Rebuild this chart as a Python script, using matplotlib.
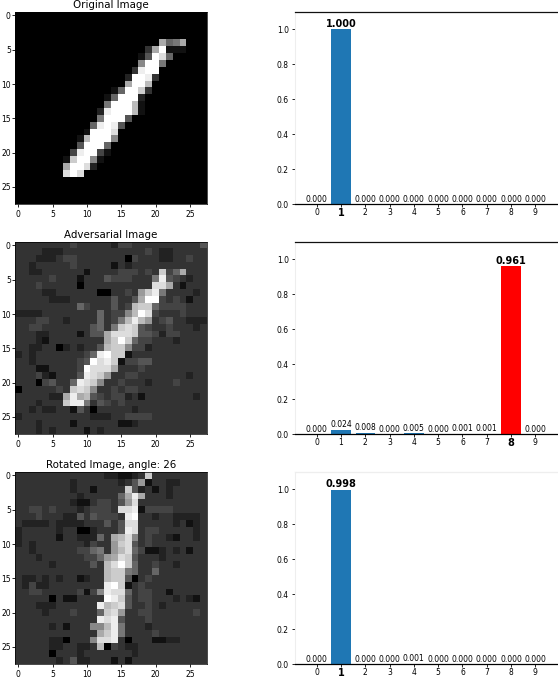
import numpy as np
import matplotlib.pyplot as plt

digits = list(range(10))

titles = ["Original Image", "Adversarial Image", "Rotated Image, angle: 26"]

probs_original = [0.000, 1.000, 0.000, 0.000, 0.000, 0.000, 0.000, 0.000, 0.000, 0.000]
probs_adversarial = [0.000, 0.024, 0.008, 0.000, 0.005, 0.000, 0.001, 0.001, 0.961, 0.000]
probs_rotated = [0.000, 0.998, 0.000, 0.000, 0.001, 0.000, 0.000, 0.000, 0.000, 0.000]

# grey level of each pixel in hex, 0 = black, f = white
original_rows = {
    4: (21, "a67a"), 5: (19, "3af111"), 6: (18, "15fd6"), 7: (18, "8ff7"),
    8: (17, "3eff"), 9: (16, "2ffe3"), 10: (16, "affb"), 11: (14, "16ffc3"),
    12: (13, "16fff2"), 13: (13, "7fffb1"), 14: (12, "2efffb1"), 15: (12, "7fff5"),
    16: (11, "6efe5"), 17: (10, "1fffd"), 18: (9, "1bfff8"), 19: (9, "5fff6"),
    20: (8, "4eff41"), 21: (7, "1cff81"), 22: (7, "affd2"), 23: (7, "dfd"),
}

adversarial_rows = [
    "3333333 3433333 2443333 3333335",
    "3333222 3333333 3333343 2233333",
    "3332223 4433333 3304333 2233433",
    "3323333 3433333 1323333 3333333",
    "3322333 3331333 3444343 c46a333",
    "3333343 3313335 4443337 e543233",
    "3334333 3303333 333333d da31333",
    "3333223 3333300 33439ce 7333323",
    "3333322 2333333 5335aff 4343133",
    "3333333 3364333 534bcc6 4444333",
    "2222333 3333363 448bfd4 3334333",
    "3334433 2333363 47beb93 4533222",
    "3344333 3333563 7cdc543 3433323",
    "3332233 331355a dddc554 2443333",
    "3332133 333333a cfc6443 3323333",
    "3322330 232335b cc84423 3333333",
    "2323333 33346ef cc13333 3333333",
    "3323333 3345fde c144553 3333333",
    "3331133 334fddd a333433 3333333",
    "3334213 335edc9 3344333 3333233",
    "3330453 36edc83 3433323 3343333",
    "0333334 3cdc833 4344333 3333333",
    "3333322 aeab543 4423133 3333323",
    "3332333 cee7354 3433333 3333333",
    "3323223 3153033 3332333 3333333",
    "2333333 3333222 3344443 3333333",
    "3332333 3133333 3112333 3333333",
    "3332323 3331323 3333333 3333333",
]

rotated_rows = [
    "3333333 3333332 21123c3 3333333",
    "3333333 3233333 3235913 3223333",
    "3333333 3233133 33c5231 3233333",
    "3333333 3323333 36aea33 3233333",
    "3333333 3211344 359d333 3333333",
    "3344343 3323444 3dde144 4433333",
    "3334333 2253544 43ef332 3322223",
    "3222232 2223335 35dd333 3323123",
    "2333332 3300233 35ed344 3333323",
    "2333331 3322263 abd8343 3213323",
    "2323333 3332433 9cd5343 3333333",
    "3323333 3344673 9bd6411 2323133",
    "3332333 3334469 adc5333 2333333",
    "3333323 333353b dfc6334 3323333",
    "3333333 333333b cc76336 3333333",
    "3223232 331233b cc50343 3333333",
    "3242233 333333e fc13433 3333333",
    "3344333 334148e dd63443 3133333",
    "3333303 113333f ec53443 3323213",
    "3332223 33333eb cd53343 2333333",
    "3333233 343336c d933443 3333343",
    "3333333 33333ed e533343 3333333",
    "3333323 133388b e733323 3333333",
    "3333333 33333ac e733334 3333333",
    "3333322 03338dd e303331 1223333",
    "3333322 33223b0 4322333 3333333",
    "3333303 3323333 3332333 3333333",
    "3333332 3522333 1313333 3333333",
]


def parse_rows(rows):
    return np.array([[int(c, 16) for c in r.replace(" ", "")] for r in rows])


img_original = np.zeros((28, 28), dtype=int)
for r, (start, vals) in original_rows.items():
    for k, c in enumerate(vals):
        img_original[r, start + k] = int(c, 16)

images = [img_original, parse_rows(adversarial_rows), parse_rows(rotated_rows)]
probs = [probs_original, probs_adversarial, probs_rotated]
bar_colors = ["tab:blue", "red", "tab:blue"]

W, H = 558, 678
# top and bottom of each row, in pixels from the top of the figure
rows_px = [(12, 204), (242, 434), (472, 664)]

fig = plt.figure(figsize=(W / 100, H / 100), dpi=100)

for i in range(3):
    top, bottom = rows_px[i]
    y0 = 1 - bottom / H
    h = (bottom - top) / H

    ax = fig.add_axes([15 / W, y0, 192 / W, h])
    ax.imshow(images[i], cmap="gray", vmin=0, vmax=15, aspect="auto")
    ax.set_title(titles[i], fontsize=7.4, pad=3)
    ax.set_xticks(range(0, 28, 5))
    ax.set_yticks(range(0, 28, 5))
    ax.tick_params(labelsize=5.5, length=2, width=0.6, pad=1)
    ax.tick_params(axis="x", pad=2.5)
    for s in ax.spines.values():
        s.set_linewidth(0.5)

    ax2 = fig.add_axes([295 / W, y0, 262 / W, h])
    p = np.array(probs[i])
    best = int(np.argmax(p))
    colors = ["tab:blue"] * 10
    colors[best] = bar_colors[i]
    ax2.bar(digits, p, color=colors)
    ax2.set_ylim(0, 1.1)
    ax2.set_xticks(digits)
    ax2.set_yticks(np.arange(0, 1.01, 0.2))
    ax2.tick_params(labelsize=5.5, length=2.5, width=0.6, pad=2)
    ax2.tick_params(axis="x", length=2, pad=1)
    ax2.spines["right"].set_visible(False)
    ax2.spines["left"].set_color("#eeeeee")
    ax2.spines["top"].set_color("#111111" if i < 2 else "#eeeeee")
    ax2.spines["top"].set_linewidth(0.9)
    ax2.spines["bottom"].set_linewidth(0.9)
    for d, v in zip(digits, p):
        if d == best:
            ax2.text(d, v + 0.002, f"{v:.3f}", ha="center", va="bottom", fontsize=7, fontweight="bold")
        else:
            ax2.text(d, v + 0.002, f"{v:.3f}", ha="center", va="bottom", fontsize=5.5)
    lab = ax2.get_xticklabels()[best]
    lab.set_fontsize(7)
    lab.set_fontweight("bold")

fig.savefig("out.png", dpi=100)
